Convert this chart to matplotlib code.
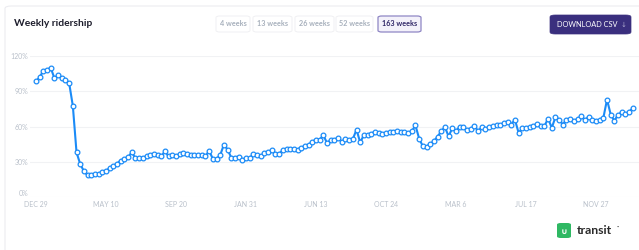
import matplotlib.pyplot as plt
from matplotlib.patches import FancyBboxPatch

# weekly ridership, % of baseline, 163 weeks starting Dec 29
ridership = [
    98.5, 102, 107.5, 108, 110, 101, 104, 101.5, 99.5, 97,
    77.5, 38, 28, 22, 18.5, 19, 19.2, 19.8, 21, 22.5,
    24.5, 26.5, 28.5, 31, 32.5, 34, 38, 33, 33.5, 33.5,
    34.5, 36, 36.5, 36, 34.5, 39, 34.5, 35.5, 35, 36.5,
    37.5, 37, 35.7, 35.7, 35.7, 35.5, 34.7, 39.3, 32.5, 32.5,
    35.6, 44.6, 40.4, 33.6, 33.6, 34.4, 31.4, 33, 33, 36.7,
    35.5, 34.5, 37.6, 38.2, 39.8, 37, 37, 39.8, 41, 41,
    41, 40.4, 42.1, 43.2, 44.6, 46.9, 48.9, 48.9, 52.5, 46,
    48.5, 48.6, 50, 47.2, 49.2, 48.3, 49.2, 57.4, 46.4, 52.8,
    52.5, 54, 55.4, 54.8, 53.4, 54.8, 55.4, 55.6, 56.2, 55.4,
    55.5, 54.5, 55.9, 61, 49.7, 43.2, 42.9, 45.2, 47.5, 51.4,
    55.9, 59.6, 51.5, 58.8, 56.2, 59.8, 59.2, 56.7, 58.2, 60.3,
    56.2, 59.3, 57.5, 59.4, 60.3, 61.7, 61.1, 63.1, 64.2, 61.7,
    65.9, 54.6, 58.3, 58.9, 59.2, 60.3, 62.3, 60.8, 60.3, 66.8,
    58.9, 67.9, 65.9, 61.7, 65.9, 66.5, 64.5, 66.5, 68.8, 65.4,
    68.2, 65.4, 64.5, 65.4, 67.3, 82.9, 70.2, 64.8, 70.2, 72.1,
    70.7, 72.4, 75.8,
]
weeks = list(range(len(ridership)))

x_tick_pos = [0, 19, 38, 57, 76, 95, 114, 133, 152]
x_tick_labels = ["DEC 29", "MAY 10", "SEP 20", "JAN 31", "JUN 13",
                 "OCT 24", "MAR 6", "JUL 17", "NOV 27"]
y_ticks = [0, 30, 60, 90, 120]
y_tick_labels = ["0%", "30%", "60%", "90%", "120%"]

range_buttons = ["4 weeks", "13 weeks", "26 weeks", "52 weeks", "163 weeks"]
selected_range = "163 weeks"

W, H = 639, 250
FONT = "Lato"
BLUE = "#1b8bf7"
PURPLE = "#3a2f7e"


def fx(px):
    return px / W


def fy(py):
    return 1 - py / H


fig = plt.figure(figsize=(W / 100, H / 100), dpi=100)
fig.patch.set_facecolor("white")

# card outline (kept behind the axes)
card = FancyBboxPatch((fx(5), fy(262)), fx(660), 256 / H,
                      boxstyle="round,pad=0,rounding_size=0.01",
                      transform=fig.transFigure, facecolor="white",
                      edgecolor="#ececf0", linewidth=0.8, zorder=-5)
fig.patches.append(card)

fig.text(fx(14), fy(24), "Weekly ridership", fontsize=7.4, fontweight="bold",
         color="#1d1d2c", family=FONT, va="center", ha="left")

# range selector buttons
btn_x = [216, 253, 295, 336, 378]
btn_w = [34, 39, 39, 37, 43]
for label, bx, bw in zip(range_buttons, btn_x, btn_w):
    sel = label == selected_range
    box = FancyBboxPatch((fx(bx), fy(32)), fx(bw), 16 / H,
                         boxstyle="round,pad=0,rounding_size=0.006",
                         transform=fig.transFigure,
                         facecolor="#f3f1fa" if sel else "white",
                         edgecolor="#8f86c4" if sel else "#f0f0f3",
                         linewidth=0.9 if sel else 0.7)
    fig.patches.append(box)
    fig.text(fx(bx + bw / 2), fy(24), label, fontsize=5.2,
             fontweight="bold", family=FONT,
             color="#2e2566" if sel else "#a7b0bc", ha="center", va="center")

dl = FancyBboxPatch((fx(550), fy(34)), fx(81), 19 / H,
                    boxstyle="round,pad=0,rounding_size=0.008",
                    transform=fig.transFigure, facecolor=PURPLE,
                    edgecolor=PURPLE, linewidth=0.5)
fig.patches.append(dl)
fig.text(fx(587), fy(24.5), "DOWNLOAD CSV", fontsize=5.3, color="white",
         family=FONT, ha="center", va="center")
fig.text(fx(624), fy(25), "\u2193", fontsize=5, color="#aaa6cc",
         family="DejaVu Sans", ha="center", va="center")

# chart
ax = fig.add_axes([fx(30), fy(197), fx(609), 141 / H], zorder=3)
ax.patch.set_alpha(0)
ax.plot(weeks, ridership, color=BLUE, linewidth=1.5, marker="o",
        markersize=3.4, markerfacecolor="white", markeredgecolor=BLUE,
        markeredgewidth=0.9, clip_on=False, zorder=3)
ax.set_xlim(-6 / 3.684, 603 / 3.684)
ax.set_ylim(0, 120)
ax.set_yticks(y_ticks)
ax.set_yticklabels(y_tick_labels)
ax.set_xticks(x_tick_pos)
ax.set_xticklabels(x_tick_labels)
ax.grid(axis="y", color="#f1f2f4", linewidth=0.8)
ax.set_axisbelow(True)
for s in ax.spines.values():
    s.set_visible(False)
ax.tick_params(axis="both", length=0, labelsize=5, labelcolor="#b9c0ca")
ax.tick_params(axis="y", pad=1)
ax.tick_params(axis="x", pad=3)
for lbl in ax.get_xticklabels() + ax.get_yticklabels():
    lbl.set_family(FONT)
# lift the 0% label a little so it clears the first date
ax.get_yticklabels()[0].set_verticalalignment("bottom")

# transit logo
logo = FancyBboxPatch((fx(557), fy(238)), fx(14), 15 / H,
                      boxstyle="round,pad=0,rounding_size=0.006",
                      transform=fig.transFigure, facecolor="#2fb863",
                      edgecolor="none")
fig.patches.append(logo)
fig.text(fx(564), fy(231), "\u222a", fontsize=6, color="white",
         fontweight="bold", family="DejaVu Sans", ha="center", va="center")
fig.text(fx(577), fy(230.5), "transit", fontsize=8.8, color="#2a2a2a",
         family=FONT, fontweight="bold", ha="left", va="center")
fig.text(fx(617), fy(227), "\u00b7", fontsize=6, color="#2a2a2a",
         family=FONT, ha="left", va="center")

fig.savefig("out.png", dpi=100, facecolor="white")
